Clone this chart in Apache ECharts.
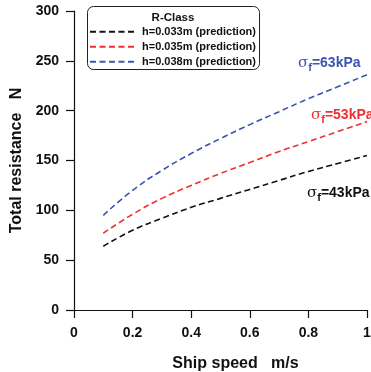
<!DOCTYPE html>
<html><head><meta charset="utf-8">
<script src="https://cdn.jsdelivr.net/npm/echarts@6/dist/echarts.min.js"></script>
<style>html,body{margin:0;padding:0;background:#fff}#c{width:371px;height:372px}</style>
</head><body><div id="c"></div>
<script>
const speeds = [0.1,0.2,0.3,0.4,0.5,0.6,0.7,0.8,0.9,1.0];
const h033 = [64,80,92,103,112,121,130,139,147,155];
const h035 = [77,96,112,125,137,148,159,169,179,189];
const h038 = [95,120,140,157,172,186,199,212,224,236];
const names = ['h=0.033m (prediction)','h=0.035m (prediction)','h=0.038m (prediction)'];
const colors = ['#111111','#f03030','#3a55b0'];
const xTicks = [0,0.2,0.4,0.6,0.8,1];
const yTicks = [0,50,100,150,200,250,300];
const FF = '"Liberation Sans", Arial, sans-serif';

const chart = echarts.init(document.getElementById('c'));
function ser(i, vals){
  return {name:names[i], type:'line', data:speeds.map((s,k)=>[s,vals[k]]), symbol:'none', smooth:true,
    lineStyle:{color:colors[i], width:1.6, type:[6,3.5]}, itemStyle:{color:colors[i]}};
}
function sigma(col, txt){
  return {type:'text', style:{rich:{
      s:{fontFamily:'"DejaVu Serif", serif', fontSize:15, fill:col, fontWeight:'normal'},
      f:{fontFamily:FF, fontSize:11, fontWeight:'bold', fill:col, padding:[8,0,0,0]},
      n:{fontFamily:FF, fontSize:14, fontWeight:'bold', fill:col}
    }, text:'{s|σ}{f|f}{n|'+txt+'}'}};
}
const g1 = sigma(colors[2], '=63kPa'); g1.left=298; g1.top=56;
const g2 = sigma(colors[1], '=53kPa'); g2.left=311; g2.top=108;
const g3 = sigma(colors[0], '=43kPa'); g3.left=307; g3.top=186;
chart.setOption({
  animation:false,
  grid:{left:74, right:4, top:11, bottom:62, containLabel:false, outerBoundsMode:'none'},
  xAxis:{type:'value', min:0, max:1, interval:0.2,
    name:'Ship speed   m/s', nameLocation:'middle', nameGap:46,
    nameTextStyle:{fontFamily:FF, fontSize:16, fontWeight:'bold', color:'#111', padding:[0,0,0,30]},
    axisLine:{lineStyle:{color:'#111', width:1.2}},
    axisTick:{length:8, lineStyle:{color:'#111', width:1.2}},
    axisLabel:{fontFamily:FF, fontSize:14, fontWeight:'bold', color:'#111', margin:16,
      formatter:v=>xTicks.includes(+v.toFixed(1))?String(+v.toFixed(1)):''},
    splitLine:{show:false}},
  yAxis:{type:'value', min:0, max:300, interval:50,
    name:'Total resistance   N', nameLocation:'middle', nameGap:46,
    nameTextStyle:{fontFamily:FF, fontSize:16, fontWeight:'bold', color:'#111'},
    axisLine:{show:true, lineStyle:{color:'#111', width:1.2}},
    axisTick:{show:true, length:8, lineStyle:{color:'#111', width:1.2}},
    axisLabel:{fontFamily:FF, fontSize:14, fontWeight:'bold', color:'#111', margin:15,
      formatter:v=>yTicks.includes(v)?String(v):''},
    splitLine:{show:false}},
  legend:{orient:'vertical', left:89, top:25, padding:0, itemWidth:47, itemHeight:10, itemGap:1.5,
    itemStyle:{opacity:0, borderWidth:0},
    data:names, textStyle:{fontFamily:FF, fontSize:11, fontWeight:'bold', color:'#111', lineHeight:13.5}},
  graphic:[
    {type:'rect', shape:{x:87.5, y:6.5, width:172, height:63, r:6}, style:{fill:'#fff', stroke:'#222', lineWidth:1}, z:-1},
    {type:'text', style:{text:'R-Class', x:173, y:12, fontFamily:FF, fontSize:11.5, fontWeight:'bold', fill:'#111', textAlign:'center'}},
    g1,g2,g3
  ],
  series:[ser(0,h033), ser(1,h035), ser(2,h038)]
});
</script></body></html>
